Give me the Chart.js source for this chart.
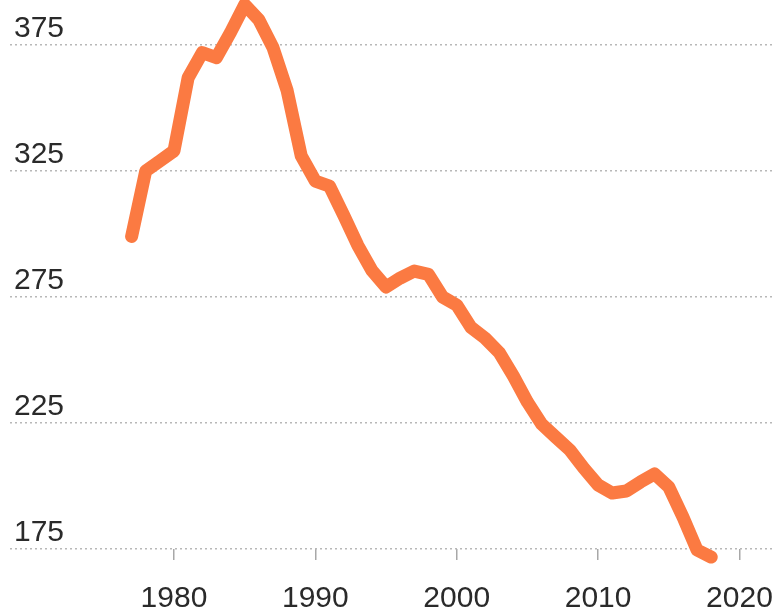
<!DOCTYPE html>
<html>
<head>
<meta charset="utf-8">
<script src="https://cdn.jsdelivr.net/npm/chart.js@4"></script>
<style>
  html, body { margin: 0; padding: 0; background: #fff; }
  #wrap { width: 772px; height: 612px; position: relative; }
</style>
</head>
<body>
<div id="wrap"><canvas id="chart"></canvas></div>
<script>
// yearly values
var years = [1977, 1978, 1979, 1980, 1981, 1982, 1983, 1984, 1985, 1986,
  1987, 1988, 1989, 1990, 1991, 1992, 1993, 1994, 1995, 1996,
  1997, 1998, 1999, 2000, 2001, 2002, 2003, 2004, 2005, 2006,
  2007, 2008, 2009, 2010, 2011, 2012, 2013, 2014, 2015, 2016,
  2017, 2018]
var values = [299, 325, 329, 333, 362, 372, 370, 380, 391, 385,
  374, 357, 331, 321, 319, 307.5, 295.5, 285.5, 279, 282.5,
  285.3, 284, 275, 271.8, 263, 258.7, 253, 243.7, 233.3, 224.6,
  219.4, 214.3, 207, 200.4, 197.2, 198, 201.6, 204.8, 199.6, 187.7,
  174.6, 171.8]
var xTicks = [1980, 1990, 2000, 2010, 2020]
var yTicks = [175, 225, 275, 325, 375]

var points = []
for (var i = 0; i < years.length; i++) {
  points.push({ x: years[i], y: values[i] })
}

var ctx = document.getElementById('chart').getContext('2d')
var myChart = new Chart(ctx, {
  type: 'line',
  data: {
    datasets: [
      {
        data: points,
        borderColor: '#fb7a42',
        borderWidth: 13,
        borderJoinStyle: 'round',
        borderCapStyle: 'round',
        pointRadius: 0,
        tension: 0,
        clip: false,
      },
    ],
  },
  options: {
    responsive: true,
    maintainAspectRatio: false,
    animation: false,
    layout: { padding: { top: 45, left: 10, right: 0, bottom: 0 } },
    plugins: { legend: { display: false }, tooltip: { enabled: false } },
    scales: {
      x: {
        type: 'linear',
        min: 1968.4,
        max: 2022.3,
        afterBuildTicks: function (axis) {
          axis.ticks = xTicks.map(function (v) { return { value: v } })
        },
        afterFit: function (axis) {
          axis.paddingLeft = 0
          axis.paddingRight = 0
          axis.height = 63
        },
        grid: { drawOnChartArea: false, drawTicks: true, tickLength: 11, color: '#a8a8a8', lineWidth: 1.5 },
        border: { display: false },
        ticks: {
          font: { family: 'Liberation Sans', size: 30 },
          color: '#2a2a2a',
          padding: 21,
          maxRotation: 0,
          callback: function (v) { return String(v) },
        },
      },
      y: {
        min: 175,
        max: 375,
        afterBuildTicks: function (axis) {
          axis.ticks = yTicks.map(function (v) { return { value: v } })
        },
        afterFit: function (axis) {
          axis.width = 0
          axis.paddingTop = 0
          axis.paddingBottom = 0
        },
        grid: { drawTicks: false, color: '#b8b8b8', lineWidth: 1.5 },
        border: { display: false, dash: [2, 3] },
        ticks: {
          mirror: true,
          padding: 4,
          labelOffset: -16,
          font: { family: 'Liberation Sans', size: 30 },
          color: '#2a2a2a',
          callback: function (v) { return String(v) },
        },
      },
    },
  },
})
</script>
</body>
</html>
